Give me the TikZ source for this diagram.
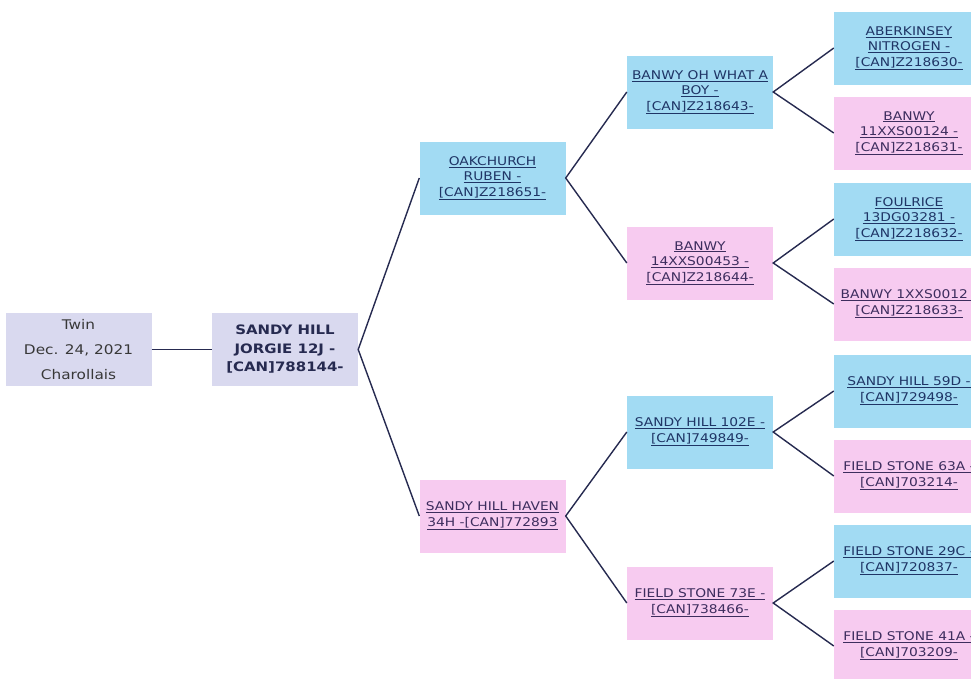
\documentclass[tikz,border=0pt]{standalone}
\usepackage{fontspec}
\newfontfamily\pf[FakeStretch=1.15]{DejaVu Sans}
\definecolor{sireblue}{HTML}{A2DBF3}
\definecolor{dampink}{HTML}{F7CBF0}
\definecolor{lav}{HTML}{D9D9EF}
\definecolor{siretext}{HTML}{1F3566}
\definecolor{damtext}{HTML}{3D2D5E}
\definecolor{linecol}{HTML}{262A50}
\newcommand{\ul}[1]{\underline{#1}}
\tikzset{
 box/.style={minimum width=146pt, minimum height=73pt, inner sep=0pt, align=center, font=\pf\fontsize{12}{15.5}\selectfont},
 sirebox/.style={box, fill=sireblue, text=siretext},
 dambox/.style={box, fill=dampink, text=damtext},
 leafbox/.style={minimum width=150pt},
 link/.style={draw=linecol, line width=1.4pt},
}
\begin{document}
\begin{tikzpicture}[x=1pt,y=-1pt]
\useasboundingbox (0,0) rectangle (971,678);
\clip (0,0) rectangle (971,678);
\fill[white] (0,0) rectangle (971,678);
% generation 0 and 1
\node[box, fill=lav, text=black!78, font=\pf\fontsize{13.3}{25}\selectfont] (twin) at (78.5,349.5) {Twin\\Dec. 24, 2021\\Charollais};
\node[box, fill=lav, text=linecol, font=\pf\bfseries\fontsize{13}{18.5}\selectfont] (main) at (285,349.5) {SANDY HILL\\JORGIE 12J -\\{[CAN]788144-}};
% generation 2
\node[sirebox] (s) at (492.5,178) {\ul{OAKCHURCH}\\\ul{RUBEN -}\\\ul{[CAN]Z218651-}};
\node[dambox] (d) at (492.5,516) {\ul{SANDY HILL HAVEN}\\\ul{34H -[CAN]772893}};
% generation 3
\node[sirebox] (ss) at (700,92) {\ul{BANWY OH WHAT A}\\\ul{BOY -}\\\ul{[CAN]Z218643-}};
\node[dambox] (sd) at (700,263) {\ul{BANWY}\\\ul{14XXS00453 -}\\\ul{[CAN]Z218644-}};
\node[sirebox] (ds) at (700,432) {\ul{SANDY HILL 102E -}\\\ul{[CAN]749849-}};
\node[dambox] (dd) at (700,603) {\ul{FIELD STONE 73E -}\\\ul{[CAN]738466-}};
% generation 4
\node[sirebox, leafbox] (sss) at (909,48) {\ul{ABERKINSEY}\\\ul{NITROGEN -}\\\ul{[CAN]Z218630-}};
\node[dambox, leafbox] (ssd) at (909,133) {\ul{BANWY}\\\ul{11XXS00124 -}\\\ul{[CAN]Z218631-}};
\node[sirebox, leafbox] (sds) at (909,219) {\ul{FOULRICE}\\\ul{13DG03281 -}\\\ul{[CAN]Z218632-}};
\node[dambox, leafbox] (sdd) at (909,304) {\ul{BANWY 1XXS0012 -}\\\ul{[CAN]Z218633-}};
\node[sirebox, leafbox] (dss) at (909,391) {\ul{SANDY HILL 59D -}\\\ul{[CAN]729498-}};
\node[dambox, leafbox] (dsd) at (909,476) {\ul{FIELD STONE 63A -}\\\ul{[CAN]703214-}};
\node[sirebox, leafbox] (dds) at (909,561) {\ul{FIELD STONE 29C -}\\\ul{[CAN]720837-}};
\node[dambox, leafbox] (ddd) at (909,646) {\ul{FIELD STONE 41A -}\\\ul{[CAN]703209-}};
% connectors
\draw[link] (twin) -- (main);
\draw[link] (s.west) -- (main.east) -- (d.west);
\draw[link] (ss.west) -- (s.east) -- (sd.west);
\draw[link] (ds.west) -- (d.east) -- (dd.west);
\draw[link] (sss.west) -- (ss.east) -- (ssd.west);
\draw[link] (sds.west) -- (sd.east) -- (sdd.west);
\draw[link] (dss.west) -- (ds.east) -- (dsd.west);
\draw[link] (dds.west) -- (dd.east) -- (ddd.west);
\end{tikzpicture}
\end{document}
